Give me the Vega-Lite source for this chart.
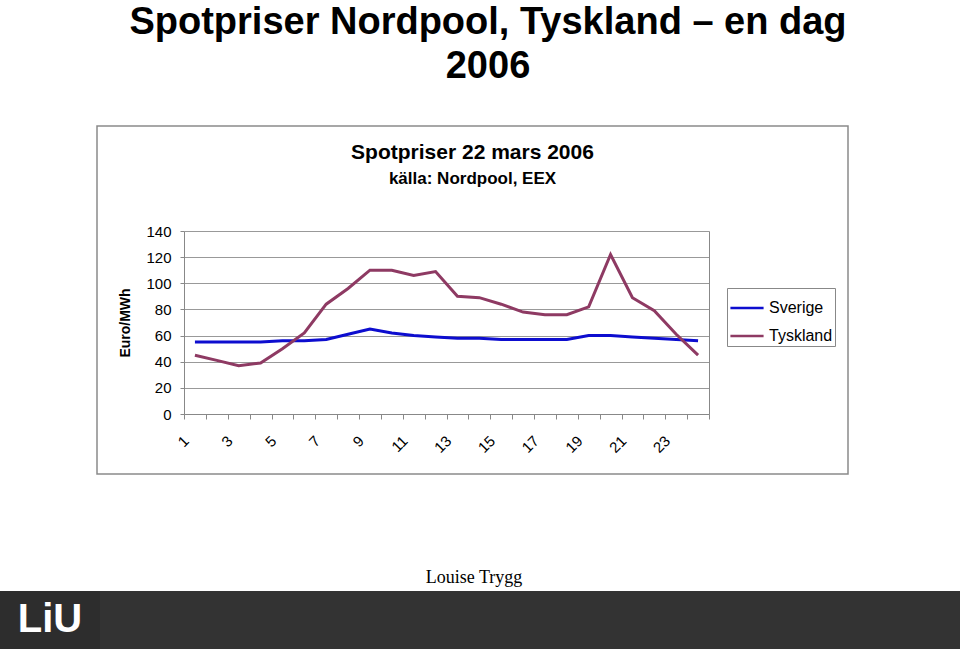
{
  "$schema": "https://vega.github.io/schema/vega-lite/v6.json",
  "padding": {"top": 4, "left": 0, "right": 0, "bottom": 0},
  "background": "white",
  "config": {"view": {"stroke": null}, "font": "Liberation Sans"},
  "title": {
    "text": ["Spotpriser Nordpool, Tyskland – en dag", "2006"],
    "font": "Liberation Sans",
    "fontSize": 38,
    "fontWeight": "bold",
    "lineHeight": 44,
    "color": "black",
    "anchor": "middle",
    "frame": "bounds",
    "dx": 8,
    "offset": 39
  },
  "datasets": {
    "prices": [
      {"h": 1, "land": "Sverige", "v": 55}, {"h": 2, "land": "Sverige", "v": 55}, {"h": 3, "land": "Sverige", "v": 55}, {"h": 4, "land": "Sverige", "v": 55},
      {"h": 5, "land": "Sverige", "v": 56}, {"h": 6, "land": "Sverige", "v": 56}, {"h": 7, "land": "Sverige", "v": 57}, {"h": 8, "land": "Sverige", "v": 61},
      {"h": 9, "land": "Sverige", "v": 65}, {"h": 10, "land": "Sverige", "v": 62}, {"h": 11, "land": "Sverige", "v": 60}, {"h": 12, "land": "Sverige", "v": 59},
      {"h": 13, "land": "Sverige", "v": 58}, {"h": 14, "land": "Sverige", "v": 58}, {"h": 15, "land": "Sverige", "v": 57}, {"h": 16, "land": "Sverige", "v": 57},
      {"h": 17, "land": "Sverige", "v": 57}, {"h": 18, "land": "Sverige", "v": 57}, {"h": 19, "land": "Sverige", "v": 60}, {"h": 20, "land": "Sverige", "v": 60},
      {"h": 21, "land": "Sverige", "v": 59}, {"h": 22, "land": "Sverige", "v": 58}, {"h": 23, "land": "Sverige", "v": 57}, {"h": 24, "land": "Sverige", "v": 56},
      {"h": 1, "land": "Tyskland", "v": 45}, {"h": 2, "land": "Tyskland", "v": 41}, {"h": 3, "land": "Tyskland", "v": 37}, {"h": 4, "land": "Tyskland", "v": 39},
      {"h": 5, "land": "Tyskland", "v": 50}, {"h": 6, "land": "Tyskland", "v": 62}, {"h": 7, "land": "Tyskland", "v": 84}, {"h": 8, "land": "Tyskland", "v": 96},
      {"h": 9, "land": "Tyskland", "v": 110}, {"h": 10, "land": "Tyskland", "v": 110}, {"h": 11, "land": "Tyskland", "v": 106}, {"h": 12, "land": "Tyskland", "v": 109},
      {"h": 13, "land": "Tyskland", "v": 90}, {"h": 14, "land": "Tyskland", "v": 89}, {"h": 15, "land": "Tyskland", "v": 84}, {"h": 16, "land": "Tyskland", "v": 78},
      {"h": 17, "land": "Tyskland", "v": 76}, {"h": 18, "land": "Tyskland", "v": 76}, {"h": 19, "land": "Tyskland", "v": 82}, {"h": 20, "land": "Tyskland", "v": 122},
      {"h": 21, "land": "Tyskland", "v": 89}, {"h": 22, "land": "Tyskland", "v": 79}, {"h": 23, "land": "Tyskland", "v": 61}, {"h": 24, "land": "Tyskland", "v": 45}
    ]
  },
  "spacing": 90,
  "vconcat": [
    {
      "spacing": 0,
      "hconcat": [
        {
          "width": 96,
          "height": 348,
          "view": {"fill": "white", "stroke": null},
          "data": {"values": [{"t": ""}]},
          "mark": {"type": "text"},
          "encoding": {"text": {"field": "t"}}
        },
        {
          "width": 751,
          "height": 348,
          "view": {"fill": "white", "stroke": "#8a8a8a", "strokeWidth": 1.5},
          "title": {
            "text": "Spotpriser 22 mars 2006",
            "subtitle": "källa: Nordpool, EEX",
            "fontSize": 21,
            "fontWeight": "bold",
            "color": "black",
            "subtitleFontSize": 17,
            "subtitleFontWeight": "bold",
            "subtitleColor": "black",
            "subtitlePadding": 8,
            "anchor": "middle",
            "frame": "group",
            "offset": -61
          },
          "data": {"name": "prices"},
          "encoding": {
            "x": {
              "field": "h",
              "type": "ordinal",
              "scale": {"type": "band", "range": [87, 612], "paddingInner": 0, "paddingOuter": 0},
              "axis": {
                "title": null,
                "orient": "bottom",
                "offset": -60,
                "tickBand": "extent",
                "labelAngle": -45,
                "labelExpr": "(+datum.value) % 2 == 1 ? datum.label : ''",
                "labelOverlap": false,
                "labelFontSize": 15,
                "labelColor": "black",
                "labelPadding": 14,
                "labelOffset": -14,
                "tickSize": 5,
                "tickColor": "#888888",
                "domainColor": "#888888",
                "grid": false
              }
            }
          },
          "layer": [
            {
              "mark": {"type": "line", "strokeWidth": 3},
              "encoding": {
                "y": {
                  "field": "v",
                  "type": "quantitative",
                  "scale": {"domain": [0, 140], "range": [288, 105], "nice": false},
                  "axis": {
                    "orient": "left",
                    "offset": -87,
                    "values": [0, 20, 40, 60, 80, 100, 120, 140],
                    "grid": true,
                    "gridColor": "#999999",
                    "gridWidth": 1,
                    "domainColor": "#888888",
                    "tickColor": "#888888",
                    "tickSize": 4,
                    "labelFontSize": 15,
                    "labelColor": "black",
                    "labelPadding": 9,
                    "title": "Euro/MWh",
                    "titleFontSize": 14,
                    "titleFontWeight": "bold",
                    "titleColor": "black",
                    "titlePadding": 13
                  }
                },
                "color": {
                  "field": "land",
                  "type": "nominal",
                  "scale": {"domain": ["Sverige", "Tyskland"], "range": ["#0d0dcf", "#8e3a63"]},
                  "legend": {
                    "title": null,
                    "orient": "none",
                    "legendX": 727,
                    "legendY": 162,
                    "symbolType": "stroke",
                    "symbolSize": 1100,
                    "symbolStrokeWidth": 2.5,
                    "labelFontSize": 16,
                    "labelColor": "black",
                    "labelOffset": 4,
                    "strokeColor": "#888888",
                    "padding": 2,
                    "rowPadding": 2
                  }
                }
              }
            },
            {
              "mark": {"type": "line", "opacity": 0},
              "encoding": {
                "y": {
                  "field": "v",
                  "type": "quantitative",
                  "axis": {
                    "orient": "right",
                    "offset": -139,
                    "grid": false,
                    "ticks": false,
                    "labels": false,
                    "title": null,
                    "domainColor": "#888888"
                  }
                }
              }
            }
          ]
        }
      ]
    },
    {
      "spacing": 0,
      "vconcat": [
        {
          "width": 960,
          "height": 26,
          "view": {"fill": "white", "stroke": null},
          "data": {"values": [{"t": "Louise Trygg"}]},
          "mark": {"type": "text", "font": "Liberation Serif", "fontSize": 18, "color": "black", "dx": -6},
          "encoding": {"text": {"field": "t"}}
        },
        {
          "spacing": 0,
          "hconcat": [
            {
              "width": 100,
              "height": 58,
              "view": {"fill": "#2d2d2d", "stroke": null},
              "data": {"values": [{"t": "LiU"}]},
              "mark": {"type": "text", "font": "Liberation Sans", "fontWeight": "bold", "fontSize": 40, "color": "white"},
              "encoding": {"text": {"field": "t"}}
            },
            {
              "width": 860,
              "height": 58,
              "view": {"fill": "#333333", "stroke": null},
              "data": {"values": [{"t": ""}]},
              "mark": {"type": "text"},
              "encoding": {"text": {"field": "t"}}
            }
          ]
        }
      ]
    }
  ]
}
